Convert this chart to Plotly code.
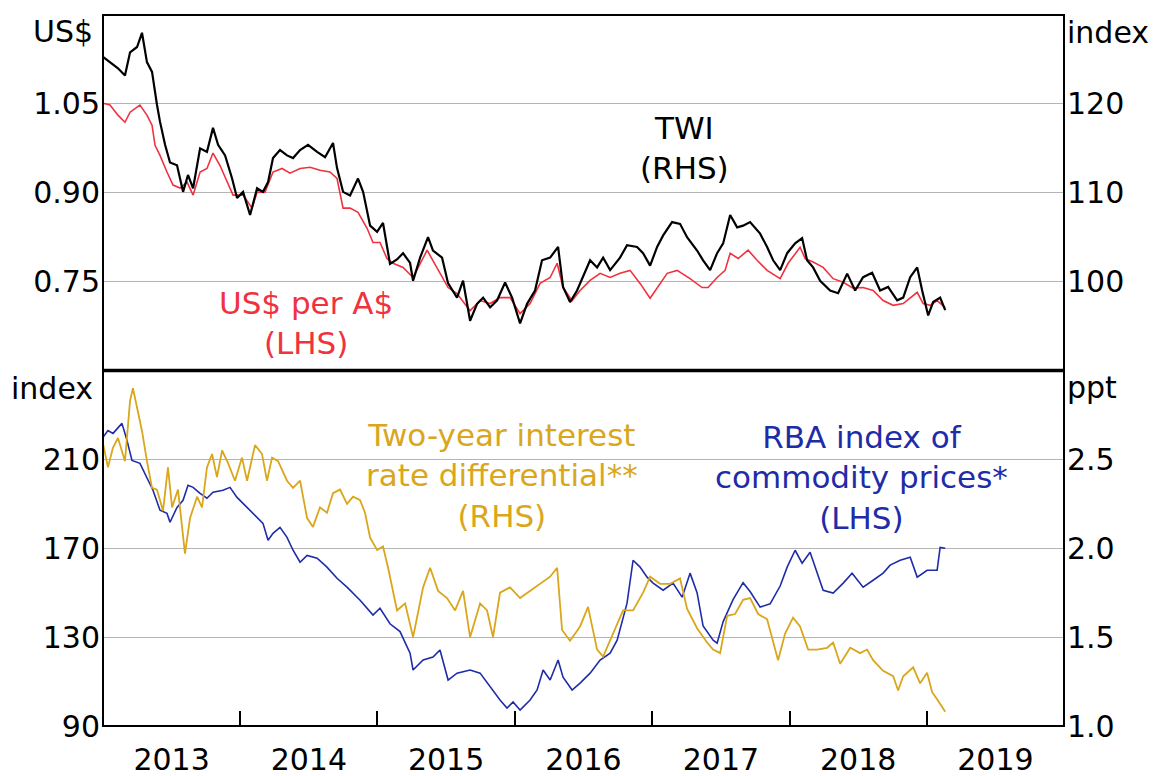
import pandas as pd
import plotly.graph_objects as go

# dates are decimal years
twi_t = [2013.000, 2013.051, 2013.109, 2013.160, 2013.197, 2013.248, 2013.284, 2013.320, 2013.357, 2013.393,
         2013.415, 2013.452, 2013.488, 2013.539, 2013.583, 2013.619, 2013.656, 2013.707, 2013.757, 2013.801,
         2013.838, 2013.889, 2013.940, 2013.976, 2014.020, 2014.071, 2014.122, 2014.165, 2014.202, 2014.238,
         2014.289, 2014.340, 2014.384, 2014.435, 2014.493, 2014.559, 2014.617, 2014.675, 2014.704, 2014.748,
         2014.799, 2014.857, 2014.894, 2014.945, 2014.996, 2015.039, 2015.090, 2015.141, 2015.185, 2015.236,
         2015.258, 2015.309, 2015.367, 2015.403, 2015.469, 2015.513, 2015.578, 2015.622, 2015.673, 2015.724,
         2015.768, 2015.819, 2015.870, 2015.928, 2015.979, 2016.037, 2016.088, 2016.146, 2016.197, 2016.256,
         2016.314, 2016.350, 2016.401, 2016.452, 2016.496, 2016.547, 2016.598, 2016.642, 2016.693, 2016.765,
         2016.816, 2016.889, 2016.933, 2016.984, 2017.035, 2017.079, 2017.144, 2017.202, 2017.253, 2017.326,
         2017.370, 2017.421, 2017.472, 2017.516, 2017.567, 2017.618, 2017.661, 2017.712, 2017.785, 2017.836,
         2017.880, 2017.931, 2017.982, 2018.040, 2018.091, 2018.127, 2018.171, 2018.222, 2018.295, 2018.353,
         2018.419, 2018.477, 2018.535, 2018.601, 2018.659, 2018.717, 2018.783, 2018.827, 2018.878, 2018.929,
         2018.965, 2019.009, 2019.045, 2019.096, 2019.133]
twi = [125.3, 124.7, 124.0, 123.2, 125.8, 126.4, 128.0, 124.7, 123.6, 119.9,
       118.0, 115.4, 113.4, 113.1, 110.1, 112.0, 110.5, 115.0, 114.6, 117.3,
       115.4, 114.2, 111.6, 109.4, 110.1, 107.5, 110.5, 110.1, 111.2, 113.9,
       114.8, 114.2, 113.9, 114.8, 115.4, 114.6, 114.0, 115.6, 112.8, 110.1,
       109.7, 111.6, 110.1, 106.3, 105.6, 106.6, 102.0, 102.5, 103.2, 102.1,
       100.1, 102.7, 105.0, 103.5, 102.7, 99.8, 98.2, 100.1, 95.6, 97.5,
       98.2, 97.1, 97.9, 99.9, 98.2, 95.3, 97.5, 99.0, 102.4, 102.7,
       103.9, 99.4, 97.7, 99.0, 100.5, 102.4, 101.6, 102.7, 101.3, 102.7,
       104.1, 103.9, 103.2, 101.8, 103.9, 105.2, 106.7, 106.5, 105.0, 103.5,
       102.4, 101.3, 103.2, 104.3, 107.5, 106.1, 106.3, 106.7, 105.4, 103.9,
       102.4, 101.3, 103.2, 104.3, 104.9, 102.4, 101.6, 100.1, 99.0, 98.7,
       100.9, 99.0, 100.5, 101.0, 99.0, 99.4, 97.9, 98.2, 100.5, 101.6,
       99.0, 96.2, 97.7, 98.2, 96.8]

aud_t = [2013.000, 2013.051, 2013.109, 2013.160, 2013.197, 2013.269, 2013.320, 2013.357, 2013.379, 2013.415,
         2013.466, 2013.510, 2013.561, 2013.612, 2013.656, 2013.707, 2013.757, 2013.801, 2013.852, 2013.903,
         2013.947, 2014.020, 2014.085, 2014.122, 2014.180, 2014.238, 2014.304, 2014.362, 2014.435, 2014.508,
         2014.580, 2014.653, 2014.704, 2014.748, 2014.799, 2014.857, 2014.923, 2014.966, 2015.017, 2015.068,
         2015.112, 2015.185, 2015.258, 2015.360, 2015.433, 2015.513, 2015.578, 2015.673, 2015.746, 2015.819,
         2015.891, 2015.964, 2016.037, 2016.110, 2016.183, 2016.256, 2016.307, 2016.350, 2016.416, 2016.474,
         2016.547, 2016.620, 2016.693, 2016.765, 2016.838, 2016.911, 2016.984, 2017.035, 2017.108, 2017.181,
         2017.275, 2017.363, 2017.406, 2017.472, 2017.530, 2017.567, 2017.625, 2017.698, 2017.763, 2017.836,
         2017.894, 2017.931, 2017.989, 2018.076, 2018.113, 2018.171, 2018.244, 2018.317, 2018.390, 2018.462,
         2018.535, 2018.608, 2018.681, 2018.754, 2018.827, 2018.878, 2018.929, 2018.972, 2019.023, 2019.074,
         2019.133]
aud = [1.051, 1.048, 1.031, 1.019, 1.036, 1.048, 1.031, 1.014, 0.980, 0.963,
       0.935, 0.913, 0.908, 0.918, 0.896, 0.935, 0.941, 0.967, 0.946, 0.918,
       0.896, 0.896, 0.874, 0.901, 0.901, 0.935, 0.941, 0.933, 0.941, 0.943,
       0.938, 0.935, 0.924, 0.874, 0.874, 0.867, 0.840, 0.816, 0.816, 0.789,
       0.781, 0.774, 0.757, 0.803, 0.774, 0.740, 0.730, 0.701, 0.718, 0.713,
       0.723, 0.723, 0.696, 0.713, 0.747, 0.757, 0.781, 0.740, 0.718, 0.735,
       0.752, 0.764, 0.757, 0.764, 0.769, 0.747, 0.722, 0.740, 0.764, 0.769,
       0.755, 0.740, 0.740, 0.757, 0.769, 0.798, 0.789, 0.803, 0.786, 0.769,
       0.760, 0.755, 0.781, 0.808, 0.789, 0.783, 0.774, 0.755, 0.749, 0.739,
       0.740, 0.735, 0.718, 0.710, 0.713, 0.723, 0.732, 0.713, 0.710, 0.718,
       0.706]

rbi_t = [2013.000, 2013.036, 2013.073, 2013.138, 2013.175, 2013.211, 2013.269, 2013.320, 2013.364, 2013.415,
         2013.466, 2013.488, 2013.539, 2013.583, 2013.619, 2013.656, 2013.707, 2013.757, 2013.801, 2013.874,
         2013.925, 2013.976, 2014.020, 2014.093, 2014.165, 2014.202, 2014.238, 2014.289, 2014.340, 2014.384,
         2014.435, 2014.486, 2014.559, 2014.631, 2014.704, 2014.777, 2014.872, 2014.966, 2015.017, 2015.090,
         2015.163, 2015.236, 2015.258, 2015.331, 2015.403, 2015.454, 2015.513, 2015.578, 2015.673, 2015.746,
         2015.819, 2015.891, 2015.942, 2015.986, 2016.037, 2016.110, 2016.161, 2016.205, 2016.256, 2016.314,
         2016.350, 2016.416, 2016.474, 2016.547, 2016.620, 2016.693, 2016.744, 2016.816, 2016.860, 2016.911,
         2016.962, 2017.006, 2017.079, 2017.151, 2017.217, 2017.275, 2017.326, 2017.370, 2017.443, 2017.472,
         2017.516, 2017.589, 2017.661, 2017.712, 2017.785, 2017.858, 2017.931, 2017.982, 2018.040, 2018.091,
         2018.149, 2018.200, 2018.244, 2018.317, 2018.390, 2018.455, 2018.535, 2018.608, 2018.681, 2018.732,
         2018.805, 2018.878, 2018.929, 2019.001, 2019.074, 2019.096, 2019.133]
rbi = [219.9, 223.0, 221.7, 226.2, 218.5, 209.5, 208.2, 201.9, 196.1, 187.1,
       185.7, 181.7, 188.4, 191.6, 198.3, 197.4, 194.7, 192.5, 195.2, 196.1,
       197.4, 192.9, 190.2, 185.7, 181.2, 173.6, 176.7, 179.4, 174.9, 169.1,
       163.7, 166.8, 165.5, 161.5, 156.5, 152.5, 146.6, 139.9, 143.0, 136.0,
       132.5, 122.8, 115.2, 119.7, 121.0, 124.2, 110.7, 113.8, 115.2, 113.8,
       107.5, 101.7, 98.1, 100.8, 97.2, 101.7, 106.2, 115.2, 110.7, 119.7,
       112.0, 106.2, 109.3, 113.8, 119.7, 122.8, 128.6, 145.3, 164.6, 161.5,
       157.0, 154.3, 151.1, 154.3, 148.0, 158.8, 150.0, 135.0, 128.6, 127.3,
       137.0, 147.0, 154.5, 150.5, 143.5, 145.0, 153.0, 161.5, 169.1, 163.3,
       168.2, 158.8, 151.1, 149.8, 154.3, 158.8, 152.5, 155.6, 158.8, 162.4,
       164.6, 166.0, 157.0, 160.1, 160.1, 170.4, 170.0]

diff_t = [2013.000, 2013.036, 2013.073, 2013.109, 2013.160, 2013.197, 2013.218, 2013.248, 2013.284, 2013.320,
          2013.357, 2013.393, 2013.437, 2013.473, 2013.503, 2013.546, 2013.597, 2013.634, 2013.685, 2013.721,
          2013.757, 2013.794, 2013.830, 2013.867, 2013.910, 2013.961, 2014.012, 2014.049, 2014.107, 2014.158,
          2014.194, 2014.231, 2014.275, 2014.340, 2014.384, 2014.435, 2014.486, 2014.529, 2014.580, 2014.631,
          2014.675, 2014.726, 2014.777, 2014.821, 2014.872, 2014.908, 2014.945, 2014.996, 2015.039, 2015.076,
          2015.141, 2015.200, 2015.258, 2015.331, 2015.382, 2015.440, 2015.505, 2015.564, 2015.622, 2015.673,
          2015.746, 2015.797, 2015.840, 2015.891, 2015.964, 2016.037, 2016.110, 2016.183, 2016.256, 2016.307,
          2016.343, 2016.401, 2016.474, 2016.532, 2016.598, 2016.642, 2016.714, 2016.787, 2016.860, 2016.933,
          2016.984, 2017.057, 2017.130, 2017.202, 2017.253, 2017.326, 2017.399, 2017.443, 2017.494, 2017.545,
          2017.603, 2017.661, 2017.712, 2017.771, 2017.836, 2017.873, 2017.916, 2017.967, 2018.025, 2018.076,
          2018.135, 2018.200, 2018.273, 2018.317, 2018.368, 2018.441, 2018.513, 2018.564, 2018.608, 2018.681,
          2018.754, 2018.790, 2018.827, 2018.900, 2018.950, 2019.001, 2019.038, 2019.074, 2019.111, 2019.133]
diff = [2.59, 2.455, 2.567, 2.62, 2.49, 2.83, 2.90, 2.79, 2.66, 2.49,
        2.34, 2.33, 2.21, 2.455, 2.23, 2.33, 1.97, 2.17, 2.29, 2.23,
        2.455, 2.53, 2.40, 2.55, 2.48, 2.38, 2.51, 2.38, 2.58, 2.53,
        2.38, 2.51, 2.49, 2.38, 2.34, 2.38, 2.17, 2.12, 2.23, 2.20,
        2.31, 2.33, 2.25, 2.29, 2.27, 2.20, 2.06, 1.99, 2.01, 1.89,
        1.65, 1.69, 1.50, 1.78, 1.89, 1.76, 1.72, 1.65, 1.76, 1.50,
        1.69, 1.65, 1.50, 1.75, 1.78, 1.72, 1.76, 1.80, 1.84, 1.89,
        1.54, 1.48, 1.56, 1.67, 1.43, 1.39, 1.52, 1.65, 1.65, 1.75,
        1.84, 1.80, 1.80, 1.83, 1.66, 1.55, 1.47, 1.43, 1.41, 1.62,
        1.63, 1.71, 1.72, 1.63, 1.60, 1.50, 1.37, 1.52, 1.61, 1.56,
        1.43, 1.43, 1.44, 1.47, 1.35, 1.44, 1.41, 1.43, 1.37, 1.31,
        1.28, 1.20, 1.28, 1.33, 1.24, 1.30, 1.19, 1.15, 1.11, 1.08]

RED = "#f0323e"
BLUE = "#1f2ca8"
GOLD = "#d9a61c"
FONT = "DejaVu Sans, Liberation Sans, Arial, sans-serif"
TICK_FS = 30
LABEL_FS = 31


def to_dates(years):
    start = pd.Timestamp("2013-01-01")
    return [start + pd.Timedelta(days=(y - 2013) * 365.25) for y in years]


fig = go.Figure()

fig.add_trace(go.Scatter(x=to_dates(aud_t), y=aud, xaxis="x2", yaxis="y",
                         mode="lines", line=dict(color=RED, width=1.6)))
fig.add_trace(go.Scatter(x=to_dates(twi_t), y=twi, xaxis="x2", yaxis="y2",
                         mode="lines", line=dict(color="black", width=2.2)))
fig.add_trace(go.Scatter(x=to_dates(rbi_t), y=rbi, xaxis="x", yaxis="y3",
                         mode="lines", line=dict(color=BLUE, width=1.6)))
fig.add_trace(go.Scatter(x=to_dates(diff_t), y=diff, xaxis="x", yaxis="y4",
                         mode="lines", line=dict(color=GOLD, width=1.8)))

tick_font = dict(family=FONT, size=TICK_FS, color="black")
grid = dict(showgrid=True, gridcolor="#b4b4b4", gridwidth=1, zeroline=False)

fig.update_layout(
    width=1154, height=776,
    margin=dict(l=103, r=90, t=15, b=50),
    plot_bgcolor="white", paper_bgcolor="white",
    showlegend=False,
    font=dict(family=FONT, size=TICK_FS, color="black"),
    xaxis=dict(domain=[0, 1], anchor="y3", type="date", automargin=False,
               range=["2013-01-01", "2020-01-01"],
               tick0="2013-01-01", dtick="M12", tickformat="%Y",
               ticklabelmode="period", ticks="inside", ticklen=15,
               tickwidth=2, tickcolor="black", ticklabelstandoff=13,
               showgrid=False, zeroline=False, tickfont=tick_font),
    xaxis2=dict(domain=[0, 1], anchor="y", matches="x", type="date", automargin=False,
                showticklabels=False, ticks="", showgrid=False),
    yaxis=dict(domain=[0.5, 1], anchor="x2", range=[0.60, 1.20], automargin=False,
               tickvals=[0.75, 0.90, 1.05], ticktext=["0.75", "0.90", "1.05"],
               ticks="", ticklabelstandoff=2, tickfont=tick_font, **grid),
    yaxis2=dict(overlaying="y", side="right", anchor="x2", range=[90, 130], automargin=False,
                tickvals=[100, 110, 120], ticks="", ticklabelstandoff=2, showgrid=False,
                zeroline=False, tickfont=tick_font),
    yaxis3=dict(domain=[0, 0.5], anchor="x", range=[90, 250], automargin=False,
                tickvals=[90, 130, 170, 210], ticks="", ticklabelstandoff=2,
                tickfont=tick_font, **grid),
    yaxis4=dict(overlaying="y3", side="right", anchor="x", range=[1.0, 3.0], automargin=False,
                tickvals=[1.0, 1.5, 2.0, 2.5], ticktext=["1.0", "1.5", "2.0", "2.5"],
                ticks="", ticklabelstandoff=2, showgrid=False, zeroline=False,
                tickfont=tick_font),
)

# frame and the heavy divider between the panels
fig.add_shape(type="rect", xref="paper", yref="paper", x0=0, x1=1, y0=0, y1=1,
              line=dict(color="black", width=2))
fig.add_shape(type="line", xref="paper", yref="paper", x0=0, x1=1, y0=0.5, y1=0.5,
              line=dict(color="black", width=3.5))


def label(text, x, y, color, xanchor="center", size=LABEL_FS):
    fig.add_annotation(text=text, x=x, y=y, xref="paper", yref="paper",
                       xanchor=xanchor, yanchor="middle", showarrow=False,
                       align="center", font=dict(family=FONT, size=size, color=color))


# axis units
label("US$", -0.008, 0.977, "black", "right", TICK_FS)
label("index", 1.001, 0.975, "black", "left", TICK_FS)
label("index", -0.008, 0.474, "black", "right", TICK_FS)
label("ppt", 1.001, 0.476, "black", "left", TICK_FS)

# series labels
label("TWI<br>(RHS)", 0.6056, 0.813, "black")
label("US$ per A$<br>(LHS)", 0.2112, 0.567, RED)
label("Two-year interest<br>rate differential**<br>(RHS)", 0.4152, 0.352, GOLD)
label("RBA index of<br>commodity prices*<br>(LHS)", 0.7898, 0.350, BLUE)

# the page's default body margin would push the fixed-size figure off the window
fig.write_html("out.html", config={"displayModeBar": False},
               post_script="document.body.style.margin = '0';")
